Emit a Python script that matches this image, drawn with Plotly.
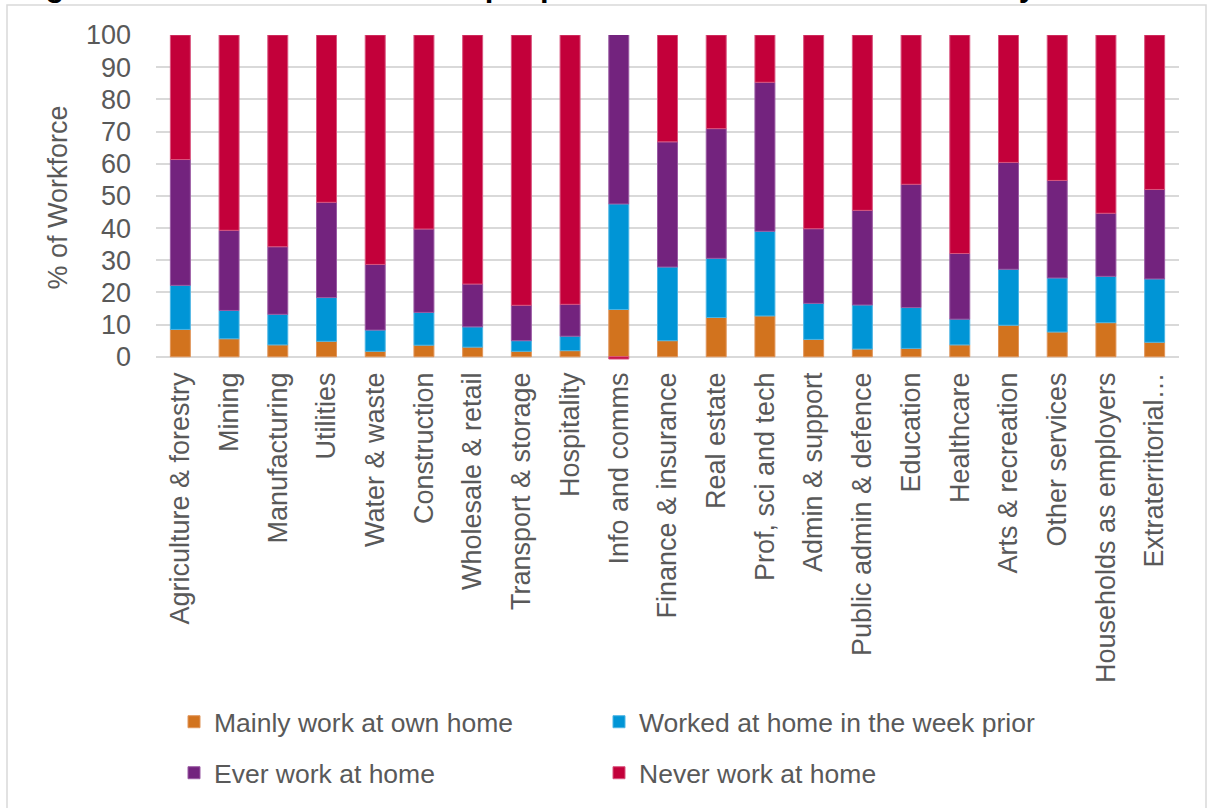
import plotly.graph_objects as go

categories = ["Agriculture & forestry", "Mining", "Manufacturing", "Utilities", "Water & waste",
              "Construction", "Wholesale & retail", "Transport & storage", "Hospitality",
              "Info and comms", "Finance & insurance", "Real estate", "Prof, sci and tech",
              "Admin & support", "Public admin & defence", "Education", "Healthcare",
              "Arts & recreation", "Other services", "Households as employers", "Extraterritorial…"]

mainly_home = [8.5, 5.6, 3.7, 4.8, 1.7, 3.6, 3.0, 1.7, 1.9, 14.7, 5.0, 12.2, 12.7, 5.4, 2.4, 2.6, 3.7, 9.8, 7.7, 10.6, 4.5]
week_prior = [13.7, 8.8, 9.5, 13.6, 6.6, 10.2, 6.3, 3.3, 4.5, 32.8, 22.9, 18.4, 26.3, 11.2, 13.7, 12.7, 8.0, 17.4, 16.8, 14.4, 19.7]
ever_home = [39.1, 24.9, 21.0, 29.6, 20.4, 25.9, 13.3, 11.0, 9.9, 53.0, 38.9, 40.3, 46.3, 23.2, 29.4, 38.3, 20.4, 33.2, 30.3, 19.6, 27.8]
never_home = [38.7, 60.7, 65.8, 52.0, 71.3, 60.3, 77.4, 84.0, 83.7, -0.7, 33.2, 29.1, 14.7, 60.2, 54.5, 46.4, 67.9, 39.6, 45.2, 55.4, 48.0]

series_names = ["Mainly work at own home", "Worked at home in the week prior",
                "Ever work at home", "Never work at home"]
colors = ["#D2731E", "#0095D6", "#73237E", "#C3003A"]
edge_colors = ["#E0955A", "#4DB5E4", "#9A5AA3", "#D9557F"]
legend_ids = ["legend", "legend2", "legend3", "legend4"]

W, H = 1212, 808
L, T = 156, 35
plot_bottom = 360
plot_right = 1179
B = H - plot_bottom
R = W - plot_right
plot_w = W - L - R
plot_h = H - T - B


def px_x(p):
    return (p - L) / plot_w


def px_y(p):
    return (plot_bottom - p) / plot_h


FONT = "Liberation Sans, Arial, sans-serif"
GRAY = "#595959"

fig = go.Figure()
for name, vals, c, ec, lg in zip(series_names, [mainly_home, week_prior, ever_home, never_home],
                                 colors, edge_colors, legend_ids):
    fig.add_trace(go.Bar(x=categories, y=vals, name=name, showlegend=True,
                         marker=dict(color=c, line=dict(color=ec, width=1)), legend=lg))

legend_pos = {"legend": (174, 722), "legend2": (599, 722), "legend3": (174, 773), "legend4": (599, 773)}
legend_layout = {}
for lid, (lx, ly) in legend_pos.items():
    legend_layout[lid] = dict(orientation="h", x=px_x(lx), y=px_y(ly), xanchor="left", yanchor="middle",
                              font=dict(size=26.5, color=GRAY, family=FONT), itemclick=False,
                              bgcolor="rgba(0,0,0,0)", visible=True)

fig.update_layout(
    width=W, height=H, showlegend=True,
    margin=dict(l=L, r=R, t=T, b=B, autoexpand=False),
    barmode="relative", bargap=0.59,
    paper_bgcolor="white", plot_bgcolor="white",
    font=dict(family=FONT, color=GRAY, size=27),
    xaxis=dict(tickangle=-90, tickfont=dict(size=27, color=GRAY, family=FONT), showgrid=False,
               showline=False, ticks="", automargin=False, ticklabelstandoff=6),
    yaxis=dict(range=[-1, 100], tickvals=list(range(0, 101, 10)), showgrid=True,
               gridcolor="#D9D9D9", gridwidth=2, zeroline=False,
               tickfont=dict(size=27, color=GRAY, family=FONT), ticklabelstandoff=24,
               title=dict(text="% of Workforce", font=dict(size=27, color=GRAY, family=FONT), standoff=10),
               automargin=False),
    shapes=[dict(type="rect", xref="paper", yref="paper", x0=px_x(7), x1=px_x(1206),
                 y0=px_y(830), y1=px_y(5), line=dict(color="#D9D9D9", width=1.5), layer="below")],
    annotations=[dict(text="<b>Figure 2: The share of all those people who did ever work at home by sector</b>",
                      xref="paper", yref="paper", x=px_x(16), y=px_y(-15), xanchor="left", yanchor="middle",
                      showarrow=False, font=dict(family=FONT, size=31, color="black"))],
    **legend_layout,
)

fig.write_html("out.html", config={"displayModeBar": False},
               post_script="document.body.style.margin='0';document.body.style.overflow='hidden';")
